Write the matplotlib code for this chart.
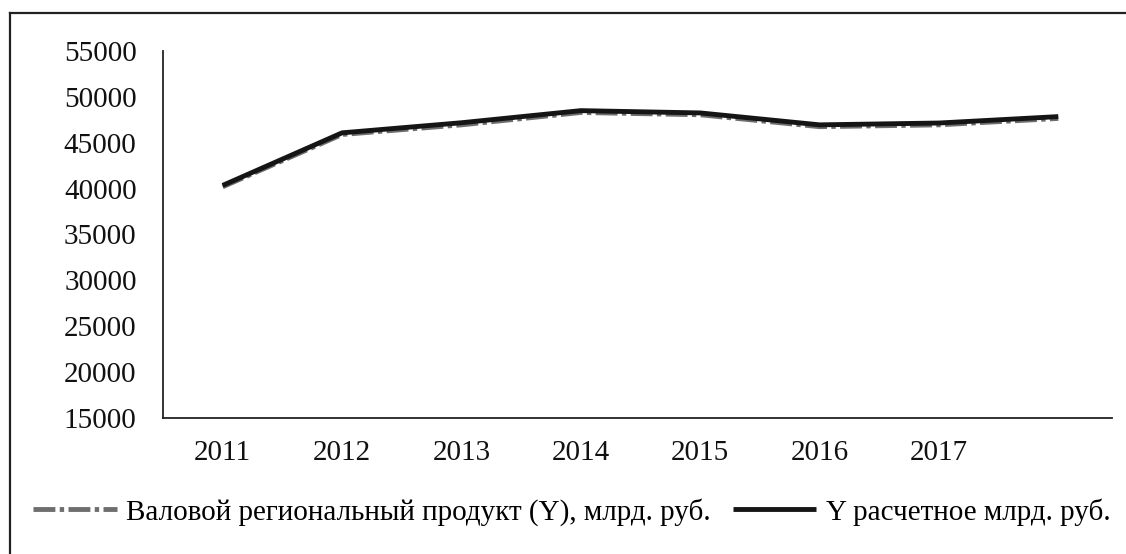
import matplotlib
matplotlib.use("Agg")
import matplotlib.pyplot as plt
from matplotlib.lines import Line2D

years = ["2011", "2012", "2013", "2014", "2015", "2016", "2017", ""]
y_actual = [40200, 45900, 46950, 48300, 48050, 46750, 46950, 47650]
y_calc = [40350, 46080, 47180, 48500, 48250, 46950, 47150, 47850]
yticks = [15000, 20000, 25000, 30000, 35000, 40000, 45000, 50000, 55000]
label_actual = "Валовой региональный продукт (Y), млрд. руб."
label_calc = "Y расчетное млрд. руб."

plt.rcParams['font.family'] = ['Liberation Serif', 'DejaVu Serif']

W, H = 1126, 554
FS = 21
fig = plt.figure(figsize=(W / 100, H / 100), dpi=100)
ax = fig.add_axes([163 / W, 1 - 418 / H, (1112 - 163) / W, (418 - 51) / H])

x = list(range(len(years)))
ax.plot(x, y_actual, color="#6e6e6e", lw=3.5, linestyle=(0, (4.5, 0.9, 0.9, 0.9)),
        solid_capstyle="butt", dash_capstyle="butt", label=label_actual)
ax.plot(x, y_calc, color="#151515", lw=3.5, solid_capstyle="butt", label=label_calc)

ax.set_xlim(-0.5, 7.45)
ax.set_ylim(15000, 55000)
ax.set_yticks(yticks)
ax.set_yticklabels([str(v) for v in yticks])
ax.set_xticks(x)
ax.set_xticklabels(years)
ax.tick_params(axis="both", length=0, labelsize=FS, colors="#111111")
ax.tick_params(axis="y", pad=19)
ax.tick_params(axis="x", pad=16)
for s in ["top", "right"]:
    ax.spines[s].set_visible(False)
for s in ["left", "bottom"]:
    ax.spines[s].set_color("#222222")
    ax.spines[s].set_linewidth(1.3)

fig.legend(loc="center", bbox_to_anchor=(572 / W, 1 - 512 / H), ncol=2,
           frameon=False, fontsize=FS, handlelength=2.85, handletextpad=0.34,
           columnspacing=0.75)

# outer frame (top and left edges visible)
fig.add_artist(Line2D([10 / W, 1], [1 - 13 / H, 1 - 13 / H], transform=fig.transFigure,
                      color="#222222", lw=1.6))
fig.add_artist(Line2D([10 / W, 10 / W], [0, 1 - 13 / H], transform=fig.transFigure,
                      color="#222222", lw=1.6))

fig.savefig("out.png", dpi=100)
